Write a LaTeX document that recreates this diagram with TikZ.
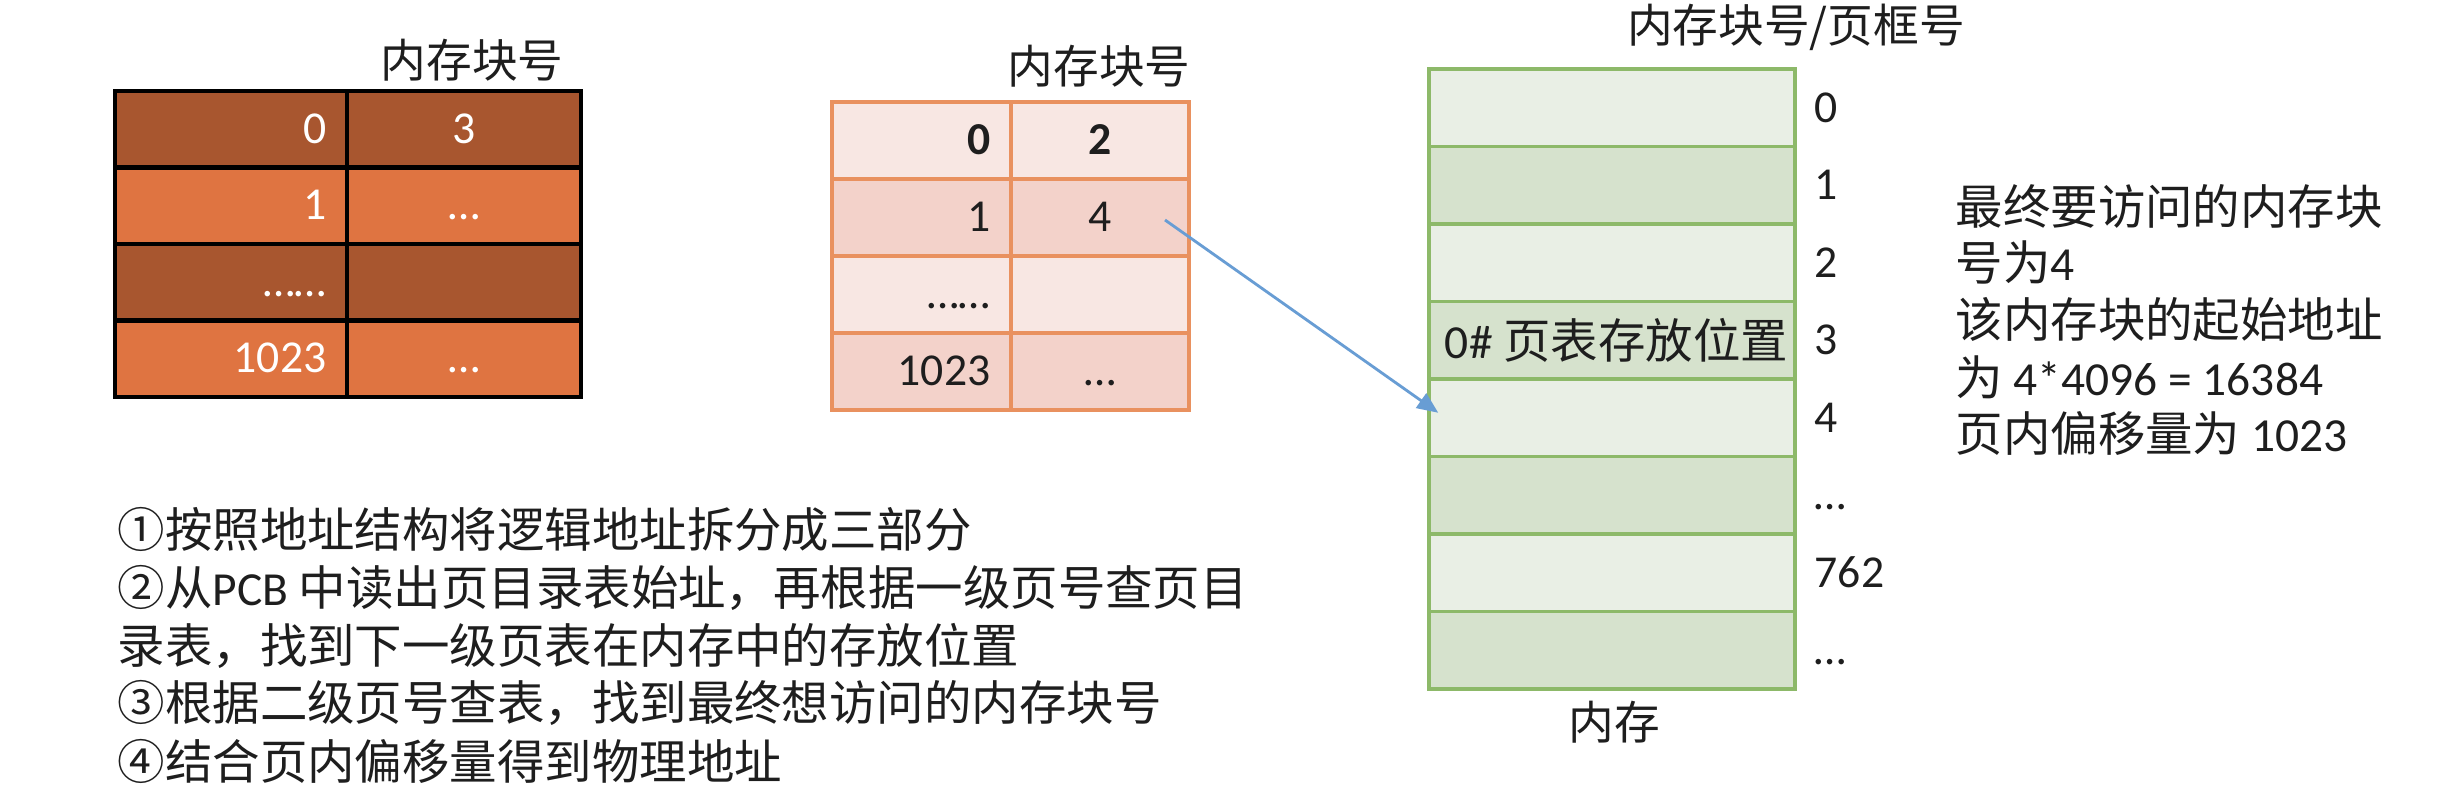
\documentclass[tikz,border=0pt]{standalone}
\usepackage{fontspec}
\usepackage{tikz}
\usetikzlibrary{arrows.meta}
\setmainfont{Carlito}
\newfontfamily\cjk{Noto Sans CJK SC}
\definecolor{lvdark}{RGB}{168,86,47}
\definecolor{lvlight}{RGB}{223,116,65}
\definecolor{pglight}{RGB}{248,231,227}
\definecolor{pgdark}{RGB}{243,210,202}
\definecolor{pgline}{RGB}{233,145,95}
\definecolor{memlight}{RGB}{233,239,229}
\definecolor{memdark}{RGB}{214,226,205}
\definecolor{memline}{RGB}{141,185,105}
\definecolor{ptrblue}{RGB}{104,157,212}
\definecolor{inktext}{RGB}{30,30,30}

\tikzset{
  cellnum/.style={font=\fontsize{13}{15}\selectfont, inner sep=0pt},
  blocktitle/.style={font=\cjk\fontsize{13}{15}\selectfont, inktext, inner sep=0pt},
  note/.style={font=\fontsize{13.5}{16}\selectfont, inktext, anchor=west, inner sep=0pt},
  memrow/.style={draw=memline, line width=1pt, minimum width=3.66cm, minimum height=0.775cm, inner sep=0pt},
}

\begin{document}
\begin{tikzpicture}
    \fill[white] (0,0) rectangle (24.62,-7.98);
    \useasboundingbox (0,0) rectangle (24.62,-7.98);

    % Page directory (first level)
    \foreach \r/\shade in {0/lvdark,1/lvlight,2/lvdark,3/lvlight}
        \fill[\shade] (1.15,{-0.91-0.765*\r}) rectangle (5.81,{-0.91-0.765*(\r+1)});
    \foreach \r in {1,2,3}
        \draw[black, line width=1.2pt] (1.15,{-0.91-0.765*\r}) -- (5.81,{-0.91-0.765*\r});
    \draw[black, line width=1.2pt] (1.15,-0.91) rectangle (5.81,-3.97);
    \draw[black, line width=1.2pt] (3.47,-0.91) -- (3.47,-3.97);
    \node[blocktitle] (dirtitle) at (4.72,-0.60) {内存块号};
    \node[cellnum, white, anchor=base east] (dirk0) at (3.27,-1.44) {0};
    \node[cellnum, white, anchor=base] (dirv0) at (4.64,-1.44) {3};
    \node[cellnum, white, anchor=base east] (dirk1) at (3.27,-2.20) {1};
    \node[cellnum, white, anchor=base] (dirv1) at (4.64,-2.20) {…};
    \node[cellnum, white, anchor=base east] (dirk2) at (3.27,-2.97) {……};
    \node[cellnum, white, anchor=base east] (dirk3) at (3.27,-3.73) {1023};
    \node[cellnum, white, anchor=base] (dirv3) at (4.64,-3.73) {…};

    % Page table (second level)
    \foreach \r/\shade in {0/pglight,1/pgdark,2/pglight,3/pgdark}
        \fill[\shade] (8.32,{-1.02-0.77*\r}) rectangle (11.89,{-1.02-0.77*(\r+1)});
    \foreach \r in {1,2,3}
        \draw[pgline, line width=1pt] (8.32,{-1.02-0.77*\r}) -- (11.89,{-1.02-0.77*\r});
    \draw[pgline, line width=1pt] (8.32,-1.02) rectangle (11.89,-4.10);
    \draw[pgline, line width=1pt] (10.11,-1.02) -- (10.11,-4.10);
    \node[blocktitle] (pgtitle) at (10.99,-0.66) {内存块号};
    \node[cellnum, inktext, anchor=base east, font=\fontsize{13}{15}\selectfont\bfseries] (pgk0) at (9.91,-1.55) {0};
    \node[cellnum, inktext, anchor=base, font=\fontsize{13}{15}\selectfont\bfseries] (pgv0) at (11.00,-1.55) {2};
    \node[cellnum, inktext, anchor=base east] (pgk1) at (9.91,-2.32) {1};
    \node[cellnum, inktext, anchor=base] (pgv1) at (11.00,-2.32) {4};
    \node[cellnum, inktext, anchor=base east] (pgk2) at (9.91,-3.09) {……};
    \node[cellnum, inktext, anchor=base east] (pgk3) at (9.91,-3.86) {1023};
    \node[cellnum, inktext, anchor=base] (pgv3) at (11.00,-3.86) {…};

    % Main memory
    \foreach \i/\shade in {0/memlight,1/memdark,2/memlight,3/memdark,4/memlight,5/memdark,6/memlight,7/memdark}
        \node[memrow, fill=\shade] (mem\i) at (16.12,{-1.0775-0.775*\i}) {};
    \foreach \i/\lbl in {0/0,1/1,2/2,3/3,4/4,5/…,6/762,7/…}
        \node[cellnum, inktext, anchor=base west] (frame\i) at (18.14,{-1.0775-0.775*\i-0.145}) {\lbl};
    \node[blocktitle] (memtitle) at (17.96,-0.27) {内存块号/页框号};
    \node[blocktitle] (memname) at (16.14,-7.22) {内存};
    \node[note] (pgplace) at ([xshift=0.17cm]mem3.west) {0\# {\cjk 页表存放位置}};

    % Pointer to the final block
    \coordinate (ptr) at (11.65,-2.20);
    \draw[ptrblue, line width=0.8pt, -{Triangle[length=6pt,width=5pt]}] (ptr) -- ([xshift=0.11cm,yshift=0.05cm]mem4.west);

    % Result
    \node[note] (res1) at (19.55,-2.06) {\cjk 最终要访问的内存块};
    \node[note] (res2) at (19.55,-2.63) {{\cjk 号为}4};
    \node[note] (res3) at (19.55,-3.20) {\cjk 该内存块的起始地址};
    \node[note] (res4) at (19.55,-3.77) {{\cjk 为} 4*4096 = 16384};
    \node[note] (res5) at (19.55,-4.34) {{\cjk 页内偏移量为} 1023};

    % Steps
    \node[note] (step1) at (1.17,-5.30) {\cjk ①按照地址结构将逻辑地址拆分成三部分};
    \node[note] (step2) at (1.17,-5.88) {{\cjk ②从}PCB {\cjk 中读出页目录表始址，再根据一级页号查页目}};
    \node[note] (step2b) at (1.17,-6.46) {\cjk 录表，找到下一级页表在内存中的存放位置};
    \node[note] (step3) at (1.17,-7.03) {\cjk ③根据二级页号查表，找到最终想访问的内存块号};
    \node[note] (step4) at (1.17,-7.61) {\cjk ④结合页内偏移量得到物理地址};
\end{tikzpicture}
\end{document}
